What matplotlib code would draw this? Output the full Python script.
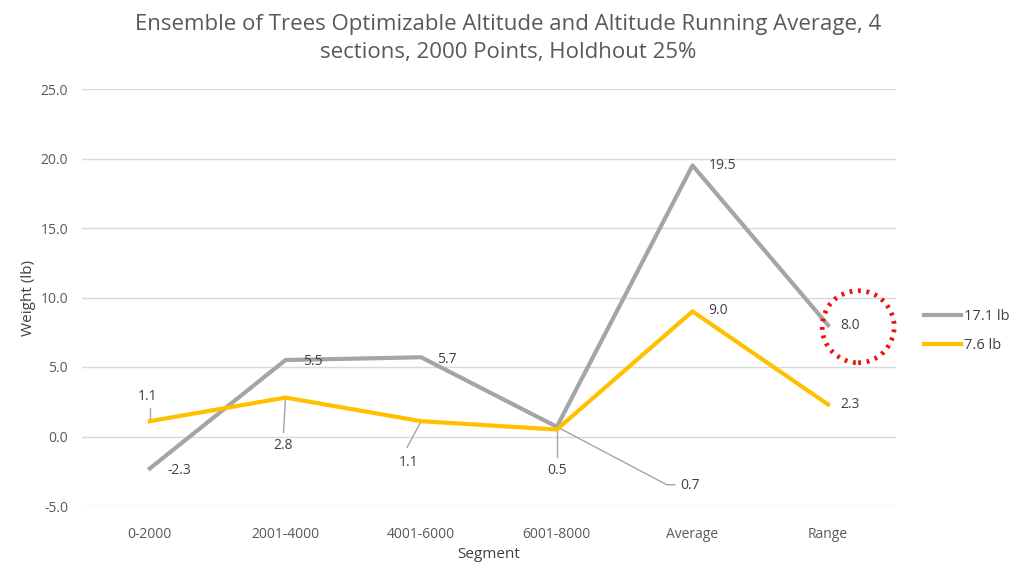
import matplotlib
matplotlib.use("Agg")
import matplotlib.pyplot as plt
from matplotlib.patches import Ellipse

categories = ["0-2000", "2001-4000", "4001-6000", "6001-8000", "Average", "Range"]
series_gray = [-2.3, 5.5, 5.7, 0.7, 19.5, 8.0]
series_yellow = [1.1, 2.8, 1.1, 0.5, 9.0, 2.3]
series_names = ["17.1 lb", "7.6 lb"]
yticks = [-5, 0, 5, 10, 15, 20, 25]

plt.rcParams['font.family'] = ['Open Sans', 'DejaVu Sans']
TXT = '#404040'
GRAY = '#a5a5a5'
YEL = '#ffc000'

AX_L, AX_R, AX_T, AX_B = 82, 896, 89, 506
fig = plt.figure(figsize=(10.17, 5.65), dpi=100)
ax = fig.add_axes([AX_L/1017, 1-AX_B/565, (AX_R-AX_L)/1017, (AX_B-AX_T)/565])
x = list(range(len(categories)))
ax.plot(x, series_gray, color=GRAY, lw=3, label=series_names[0], zorder=3)
ax.plot(x, series_yellow, color=YEL, lw=3, label=series_names[1], zorder=3)

ax.set_xlim(-0.5, len(categories) - 0.5)
ax.set_ylim(-5, 25)
ax.set_yticks(yticks)
ax.set_yticklabels([f"{v:.1f}" for v in yticks])
ax.set_xticks(x)
ax.set_xticklabels(categories)
ax.tick_params(length=0, labelsize=10, colors='#595959')
ax.tick_params(axis='x', pad=15)
ax.tick_params(axis='y', pad=10)
ax.yaxis.grid(True, color='#d9d9d9', lw=1)
ax.set_axisbelow(True)
for s in ax.spines.values():
    s.set_visible(False)

ax.set_ylabel("Weight (lb)", fontsize=11, color=TXT, labelpad=3)
ax.set_xlabel("Segment", fontsize=11, color=TXT, labelpad=4)
fig.text(0.5, 0.975, "Ensemble of Trees Optimizable Altitude and Altitude Running Average, 4\nsections, 2000 Points, Holdhout 25%",
         ha='center', va='top', fontsize=16, color='#595959', linespacing=1.4)

# pixel -> data unit helpers (fixed layout)
XU = len(categories) / (AX_R - AX_L)
YU = 30.0 / (AX_B - AX_T)

def label(i, v, dx, dy):
    ax.text(i + dx * XU, v + dy * YU, f"{v:.1f}", fontsize=10, color=TXT, ha='center', va='center', zorder=4)

def leader(i, v, pts):
    xs = [i] + [i + p[0] * XU for p in pts]
    ys = [v] + [v + p[1] * YU for p in pts]
    ax.plot(xs, ys, color=GRAY, lw=1, zorder=2)

# yellow labels
label(0, series_yellow[0], -2, 25); leader(0, series_yellow[0], [(0, 13)])
label(1, series_yellow[1], -2, -48); leader(1, series_yellow[1], [(-2, -35)])
label(2, series_yellow[2], -13, -41); leader(2, series_yellow[2], [(-14, -26)])
label(3, series_yellow[3], 0, -41); leader(3, series_yellow[3], [(0, -27)])
label(4, series_yellow[4], 26, 1)
label(5, series_yellow[5], 22, 0)

# gray labels
label(0, series_gray[0], 30, -2)
label(1, series_gray[1], 27, -1)
label(2, series_gray[2], 26, -2)
label(3, series_gray[3], 133, -59); leader(3, series_gray[3], [(110, -58), (118, -58)])
label(4, series_gray[4], 30, 0)
label(5, series_gray[5], 22, 0)

# red dotted circle around Range gray label
circ = Ellipse((5 + 30 * XU, 8.0 - 0.1), width=72 * XU, height=72 * YU, fill=False,
               edgecolor='#ee1111', lw=3.4, linestyle=(0, (0.6, 1.2)), clip_on=False, zorder=5)
ax.add_patch(circ)

leg = fig.legend(loc='upper left', bbox_to_anchor=(911/1017, 1-296/565), frameon=False,
                 fontsize=10.5, labelcolor=TXT, handlelength=2.5, handletextpad=0.25, labelspacing=0.95)

fig.savefig("out.png", dpi=100)
